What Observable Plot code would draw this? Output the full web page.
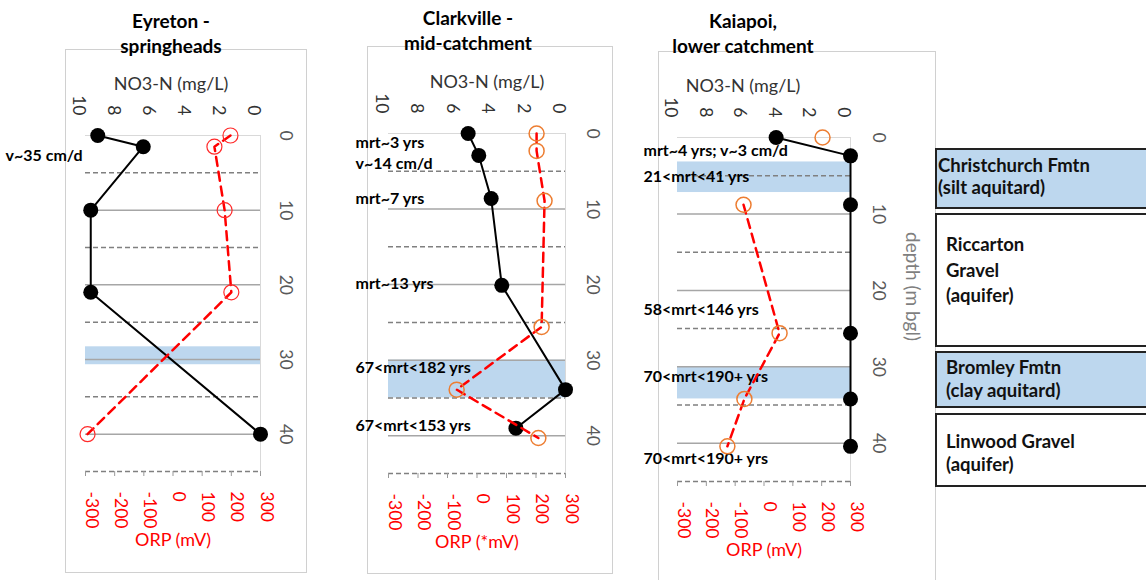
<!DOCTYPE html>
<html><head><meta charset="utf-8">
<script src="https://cdn.jsdelivr.net/npm/d3@7"></script>
<script src="https://cdn.jsdelivr.net/npm/@observablehq/plot@0.6"></script>
<style>
html,body{margin:0;padding:0;background:#fff;}
#root{position:relative;width:1146px;height:580px;overflow:hidden;font-family:Lato,sans-serif;background:#fff;}
.frame{position:absolute;border:1px solid #d0d0d0;box-sizing:border-box;background:#fff;}
.layer{position:absolute;}
.title{position:absolute;font-weight:bold;font-size:19px;line-height:25px;text-align:center;color:#000;white-space:nowrap;transform:translateX(-50%);}
.box{position:absolute;left:935px;width:230px;border:2px solid #222;box-sizing:border-box;font-weight:bold;font-size:18.5px;color:#111;white-space:nowrap;}
</style></head><body><div id="root"></div>
<script>
// ---- axis ticks ----
const no3Ticks = [10, 8, 6, 4, 2, 0];
const orpTicks = [-300, -200, -100, 0, 100, 200, 300];
const depthTicks = [0, 10, 20, 30, 40];
const solidDepths = [10, 20, 30, 40];
const dashedDepths = [5, 15, 25, 35, 45];

// ---- Eyreton - springheads ----
const eyretonNo3Depth = [0, 1.5, 10, 21, 40];
const eyretonNo3 = [9.3, 6.7, 9.7, 9.7, 0];
const eyretonOrpDepth = [0, 1.5, 10, 21, 40];
const eyretonOrp = [197, 142, 177, 200, -293];
const eyretonOrpLinked = [true, true, true, true, true];
const eyretonBandTop = [28.3];
const eyretonBandBottom = [30.7];
const eyretonNotes = ["v~35 cm/d"];
const eyretonNoteDepth = [2.7];

// ---- Clarkville - mid-catchment ----
const clarkNo3Depth = [0, 2.9, 8.6, 20.1, 33.9, 39];
const clarkNo3 = [5.5, 4.9, 4.2, 3.6, 0, 2.8];
const clarkOrpDepth = [0, 2.3, 8.9, 25.6, 33.9, 40.3];
const clarkOrp = [202, 202, 229, 219, -69, 208];
const clarkOrpLinked = [true, true, true, true, true, true];
const clarkBandTop = [30];
const clarkBandBottom = [35];
const clarkNotes = ["mrt~3 yrs", "v~14 cm/d", "mrt~7 yrs", "mrt~13 yrs", "67<mrt<182 yrs", "67<mrt<153 yrs"];
const clarkNoteDepth = [1.3, 4.0, 8.6, 19.9, 31.0, 38.7];

// ---- Kaiapoi, lower catchment ----
const kaiNo3Depth = [0, 2.4, 8.8, 25.6, 34.2, 40.4];
const kaiNo3 = [4.3, 0, 0, 0, 0, 0];
const kaiOrpDepth = [0, 8.8, 25.6, 34.2, 40.4];
const kaiOrp = [203, -71, 54, -68, -127];
const kaiOrpLinked = [false, true, true, true, true];
const kaiBandTop = [3.2, 30];
const kaiBandBottom = [7.2, 34.2];
const kaiNotes = ["mrt~4 yrs; v~3 cm/d", "21<mrt<41 yrs", "58<mrt<146 yrs", "70<mrt<190+ yrs", "70<mrt<190+ yrs"];
const kaiNoteDepth = [1.7, 5.1, 22.6, 31.3, 42.1];

// ---- stratigraphy legend ----
const layerNames = [["Christchurch Fmtn", "(silt aquitard)"], ["Riccarton", "Gravel", "(aquifer)"], ["Bromley Fmtn", "(clay aquitard)"], ["Linwood Gravel", "(aquifer)"]];
const layerAquitard = [true, false, true, false];

const zip2 = (a, b) => a.map((v, i) => ({v, d: b[i]}));
const root = document.getElementById("root");
const FONT = "Lato, sans-serif";
const TICK = 17.5;

function panel(cfg) {
  const [fl, ft, fr, fb] = cfg.frame;
  const [pl, pr, pt, pb] = cfg.plot;
  const W = fr - fl, H = fb - ft;
  const f = document.createElement("div");
  f.className = "frame";
  Object.assign(f.style, {left: fl + "px", top: ft + "px", width: W + "px", height: H + "px"});
  root.appendChild(f);

  const common = {
    width: W, height: H,
    marginLeft: pl - fl, marginRight: fr - pr, marginTop: pt - ft, marginBottom: fb - pb,
    y: {domain: [0, 45], reverse: true, axis: null},
    style: {background: "transparent", overflow: "visible", fontFamily: FONT}
  };
  const no3 = zip2(cfg.no3, cfg.no3Depth);
  const orp = cfg.orp.map((v, i) => ({v, d: cfg.orpDepth[i], linked: cfg.linked[i]}));
  const bands = cfg.bandTop.map((t, i) => ({top: t, bottom: cfg.bandBottom[i]}));
  const notes = cfg.notes.map((t, i) => ({t, d: cfg.noteDepth[i]}));

  const marksA = [
    Plot.rect(bands, {y1: "top", y2: "bottom", x1: 10, x2: 0, fill: "#bdd7ee"}),
    Plot.ruleY(solidDepths, {stroke: "#a6a6a6", strokeWidth: 1.5}),
    Plot.ruleY(dashedDepths, {stroke: "#808080", strokeWidth: 1.5, strokeDasharray: "5,3"}),
    Plot.ruleY([0], {stroke: "#d9d9d9"}),
    Plot.ruleX([0], {stroke: "#d9d9d9"}),
    Plot.line(no3, {x: "v", y: "d", stroke: "#000", strokeWidth: 2}),
    Plot.dot(no3, {x: "v", y: "d", r: 7.5, fill: "#000"}),
    Plot.text(no3Ticks, {x: d => d, text: d => String(d), frameAnchor: "top", dy: -20, rotate: 90, textAnchor: "end", fontSize: TICK, fill: "#333", fontFamily: FONT}),
    Plot.text(["NO3-N (mg/L)"], {frameAnchor: "top", dy: -58, dx: cfg.no3TitleDx, fontSize: 18, fill: "#333", fontFamily: FONT}),
    Plot.text(depthTicks, {y: d => d, text: d => String(d), frameAnchor: "right", dx: cfg.depthDx, rotate: 90, textAnchor: "middle", fontSize: TICK, fill: "#595959", fontFamily: FONT}),
    Plot.text(notes, {y: "d", text: "t", frameAnchor: "left", dx: cfg.noteDx, textAnchor: "start", fontWeight: "bold", fontSize: 16, fill: "#000", fontFamily: FONT})
  ];
  if (cfg.depthTitle) marksA.push(Plot.text([cfg.depthTitle], {frameAnchor: "right", dx: 62, dy: -23, rotate: 90, textAnchor: "middle", fontSize: 19, fill: "#7f7f7f", fontFamily: FONT}));

  const a = Plot.plot({...common, x: {domain: [10, 0], axis: null}, marks: marksA});
  const b = Plot.plot({...common, x: {domain: [-300, 300], axis: null}, marks: [
    Plot.axisX({anchor: "bottom", ticks: orpTicks, tickSize: 5, tickFormat: () => "", label: null, stroke: "#999"}),
    Plot.line(orp, {filter: d => d.linked, x: "v", y: "d", stroke: "#ff0000", strokeWidth: 2.5, strokeDasharray: "9,6"}),
    Plot.dot(orp, {x: "v", y: "d", r: 7.5, stroke: cfg.circle, strokeWidth: cfg.circleW, fill: "none"}),
    Plot.text(orpTicks, {x: d => d, text: d => String(d), frameAnchor: "bottom", dy: 20, rotate: 90, textAnchor: "start", fontSize: TICK, fill: "#ff0000", fontFamily: FONT}),
    Plot.text([cfg.orpTitle], {frameAnchor: "bottom", dy: 74, fontSize: 18, fill: "#ff0000", fontFamily: FONT})
  ]});
  for (const s of [a, b]) {
    s.classList.add("layer");
    s.style.left = fl + "px"; s.style.top = ft + "px"; s.style.position = "absolute";
    root.appendChild(s);
  }
  const t = document.createElement("div");
  t.className = "title";
  t.style.left = cfg.titleX + "px"; t.style.top = cfg.titleY + "px";
  t.innerHTML = cfg.title.join("<br>");
  root.appendChild(t);
}

panel({frame: [65, 49, 307, 573], plot: [85, 260, 135, 471],
  no3: eyretonNo3, no3Depth: eyretonNo3Depth, orp: eyretonOrp, orpDepth: eyretonOrpDepth, linked: eyretonOrpLinked,
  bandTop: eyretonBandTop, bandBottom: eyretonBandBottom, notes: eyretonNotes, noteDepth: eyretonNoteDepth,
  noteDx: -80, depthDx: 25, no3TitleDx: -2, circle: "#ff2a2a", circleW: 1.2,
  orpTitle: "ORP (mV)", title: ["Eyreton -", "springheads"], titleX: 171, titleY: 8});

panel({frame: [367, 46, 613, 574], plot: [388, 565, 133, 473],
  no3: clarkNo3, no3Depth: clarkNo3Depth, orp: clarkOrp, orpDepth: clarkOrpDepth, linked: clarkOrpLinked,
  bandTop: clarkBandTop, bandBottom: clarkBandBottom, notes: clarkNotes, noteDepth: clarkNoteDepth,
  noteDx: -33, depthDx: 27, no3TitleDx: 10, circle: "#ed7d31", circleW: 1.5,
  orpTitle: "ORP (*mV)", title: ["Clarkville -", "mid-catchment"], titleX: 468, titleY: 5});

panel({frame: [658, 51, 936, 600], plot: [677, 850, 137, 481],
  no3: kaiNo3, no3Depth: kaiNo3Depth, orp: kaiOrp, orpDepth: kaiOrpDepth, linked: kaiOrpLinked,
  bandTop: kaiBandTop, bandBottom: kaiBandBottom, notes: kaiNotes, noteDepth: kaiNoteDepth,
  noteDx: -34, depthDx: 28, no3TitleDx: -21, circle: "#ed7d31", circleW: 1.5, depthTitle: "depth (m bgl)",
  orpTitle: "ORP (mV)", title: ["Kaiapoi,", "lower catchment"], titleX: 743, titleY: 8});

// stratigraphy boxes
const boxGeom = [
  {top: 148, h: 61, pt: 4, pl: 1, lh: 22},
  {top: 213, h: 134, pt: 17, pl: 9, lh: 25.5},
  {top: 351, h: 57, pt: 3, pl: 9, lh: 23},
  {top: 413, h: 74, pt: 15, pl: 9, lh: 23}
];
layerNames.forEach((lines, i) => {
  const g = boxGeom[i];
  const el = document.createElement("div");
  el.className = "box";
  Object.assign(el.style, {top: g.top + "px", height: g.h + "px", paddingTop: g.pt + "px", paddingLeft: g.pl + "px",
    lineHeight: g.lh + "px", background: layerAquitard[i] ? "#bdd7ee" : "#fff"});
  el.innerHTML = lines.join("<br>");
  root.appendChild(el);
});
</script></body></html>
